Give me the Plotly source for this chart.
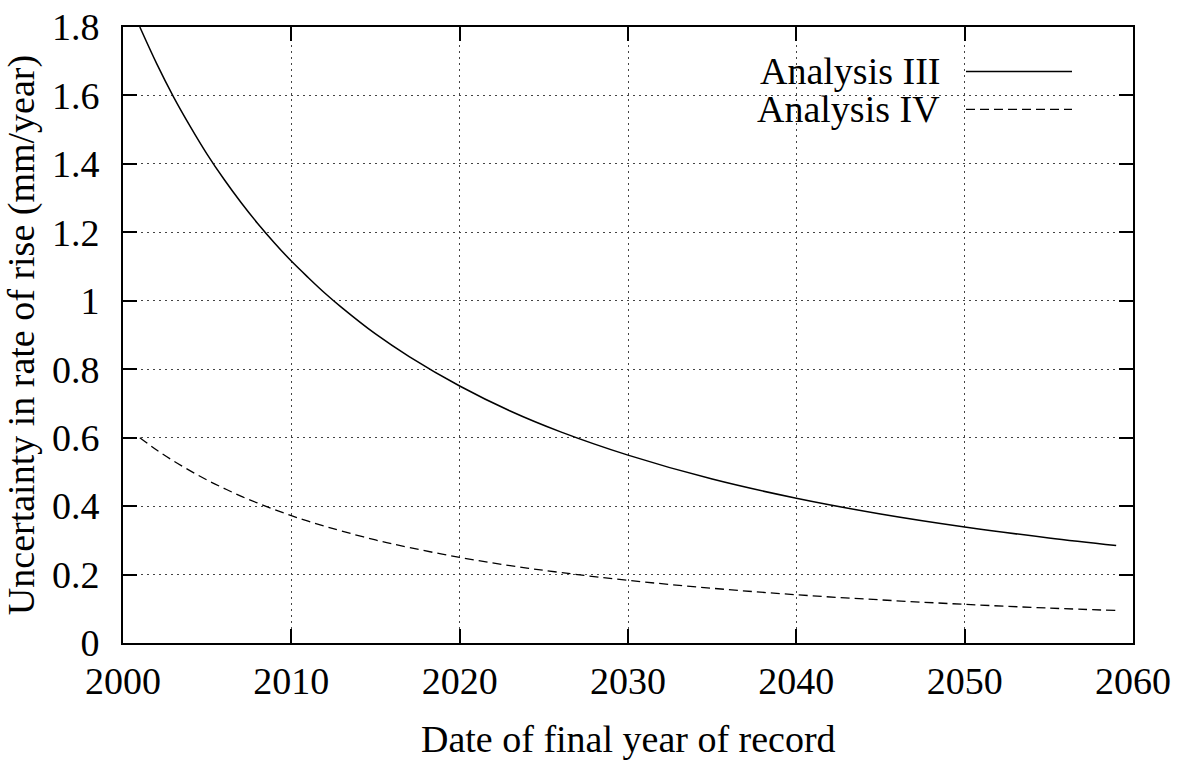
import plotly.graph_objects as go

# Final year of the record and the uncertainty in the rate of rise (mm/year)
years = [2001, 2002, 2003, 2004, 2005, 2006, 2007, 2008, 2009, 2010, 2011, 2012,
         2013, 2015, 2017, 2020, 2023, 2026, 2030, 2035, 2040, 2045, 2050, 2055, 2059]
analysis_iii = [1.800, 1.693, 1.596, 1.509, 1.428, 1.355, 1.288, 1.226, 1.169, 1.116,
                1.068, 1.022, 0.980, 0.903, 0.837, 0.751, 0.678, 0.617, 0.549, 0.479,
                0.423, 0.377, 0.339, 0.307, 0.285]
analysis_iv = [0.600, 0.564, 0.532, 0.503, 0.476, 0.452, 0.429, 0.409, 0.390, 0.372,
               0.356, 0.341, 0.327, 0.301, 0.279, 0.250, 0.226, 0.206, 0.183, 0.160,
               0.141, 0.126, 0.113, 0.102, 0.095]

x_ticks = [2000, 2010, 2020, 2030, 2040, 2050, 2060]
y_ticks = [0, 0.2, 0.4, 0.6, 0.8, 1, 1.2, 1.4, 1.6, 1.8]

FONT = "Liberation Serif"
FSIZE = 38

fig = go.Figure()
fig.add_trace(go.Scatter(x=years, y=analysis_iii, mode="lines", name="Analysis III",
                         line=dict(color="black", width=1.5, shape="spline"),
                         showlegend=False))
fig.add_trace(go.Scatter(x=years, y=analysis_iv, mode="lines", name="Analysis IV",
                         line=dict(color="black", width=1.3, dash="9px,5px", shape="spline"),
                         showlegend=False))

axis_common = dict(
    showline=True, linecolor="black", linewidth=2, mirror="allticks",
    ticks="inside", ticklen=14, tickwidth=2, tickcolor="black",
    showgrid=True, gridcolor="#444", gridwidth=1, griddash="2px,4px",
    zeroline=False, automargin=False,
    tickfont=dict(family=FONT, size=FSIZE, color="black"),
)

fig.update_xaxes(range=[2000, 2060], tickvals=x_ticks, ticklabelstandoff=3,
                 **axis_common)
fig.update_yaxes(range=[0, 1.8], tickvals=y_ticks, ticklabelstandoff=14,
                 title=dict(text="Uncertainty in rate of rise (mm/year)",
                            font=dict(family=FONT, size=FSIZE, color="black"), standoff=18),
                 **axis_common)

# Pixel positions inside the 1183x762 page mapped to paper coordinates
def px_to_paper_x(px):
    return (px - 123) / (1133 - 123)

def px_to_paper_y(py):
    return (643 - py) / (643 - 26.5)

# Key: white panel with right-aligned labels followed by line samples
shapes = [
    dict(type="rect", xref="paper", yref="paper",
         x0=px_to_paper_x(665), x1=px_to_paper_x(1095),
         y0=px_to_paper_y(128), y1=px_to_paper_y(50),
         fillcolor="white", line=dict(width=0), layer="between"),
    dict(type="line", xref="paper", yref="paper",
         x0=px_to_paper_x(966), x1=px_to_paper_x(1072),
         y0=px_to_paper_y(71), y1=px_to_paper_y(71),
         line=dict(color="black", width=1.5)),
    dict(type="line", xref="paper", yref="paper",
         x0=px_to_paper_x(966), x1=px_to_paper_x(1072),
         y0=px_to_paper_y(109), y1=px_to_paper_y(109),
         line=dict(color="black", width=1.3, dash="9px,5px")),
]
annotations = [
    dict(text="Analysis III", xref="paper", yref="paper",
         x=px_to_paper_x(942), y=px_to_paper_y(71), xanchor="right", yanchor="middle",
         showarrow=False, font=dict(family=FONT, size=FSIZE, color="black")),
    dict(text="Analysis IV", xref="paper", yref="paper",
         x=px_to_paper_x(942), y=px_to_paper_y(109), xanchor="right", yanchor="middle",
         showarrow=False, font=dict(family=FONT, size=FSIZE, color="black")),
    # x-axis title
    dict(text="Date of final year of record", xref="paper", yref="paper",
         x=0.5, y=px_to_paper_y(739), xanchor="center", yanchor="middle",
         showarrow=False, font=dict(family=FONT, size=FSIZE, color="black")),
]

fig.update_layout(
    width=1183, height=762,
    margin=dict(l=123, r=50, t=26.5, b=119),
    paper_bgcolor="white", plot_bgcolor="white",
    font=dict(family=FONT, color="black"),
    shapes=shapes, annotations=annotations,
    showlegend=False,
)

fig.write_html("out.html")
